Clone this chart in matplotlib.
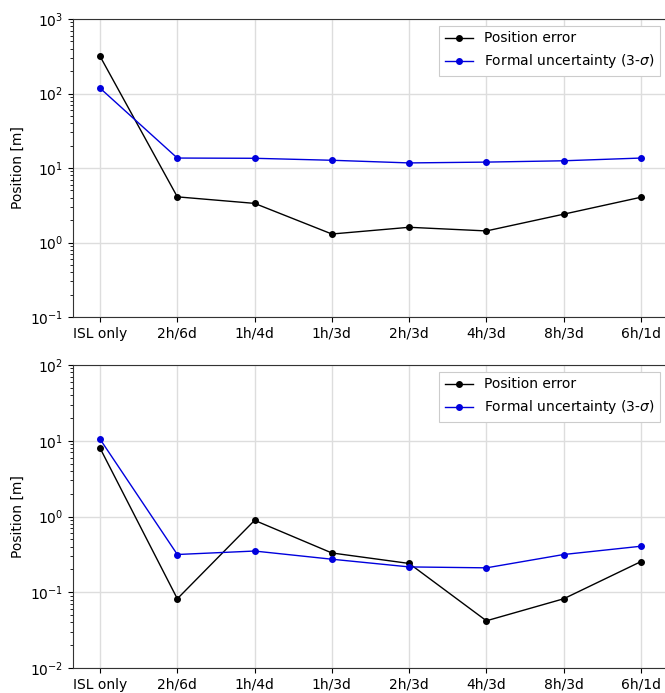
import matplotlib
matplotlib.use("Agg")
import matplotlib.pyplot as plt
import numpy as np

categories = ["ISL only", "2h/6d", "1h/4d", "1h/3d", "2h/3d", "4h/3d", "8h/3d", "6h/1d"]

top_error = [316, 4.1, 3.35, 1.3, 1.6, 1.43, 2.4, 4.05]
top_formal = [118, 13.6, 13.5, 12.7, 11.7, 12.0, 12.5, 13.6]

bot_error = [8.0, 0.082, 0.89, 0.33, 0.24, 0.042, 0.082, 0.254]
bot_formal = [10.5, 0.315, 0.35, 0.273, 0.216, 0.21, 0.315, 0.405]

fig = plt.figure(figsize=(6.65, 6.93), dpi=100)
W, H = 665, 693

def make_ax(top_px, bot_px):
    left_px, right_px = 73, 668
    return fig.add_axes([left_px / W, 1 - bot_px / H, (right_px - left_px) / W, (bot_px - top_px) / H])

ax1 = make_ax(19, 317)
ax2 = make_ax(365, 668)

x = np.arange(len(categories))
for ax, err, frm, ylim in [(ax1, top_error, top_formal, (1e-1, 1e3)),
                           (ax2, bot_error, bot_formal, (1e-2, 1e2))]:
    ax.plot(x, err, color="black", marker="o", markersize=4, linewidth=1.0, label="Position error")
    ax.plot(x, frm, color="#0000dd", marker="o", markersize=4, linewidth=1.0, label=r"Formal uncertainty (3-$\sigma$)")
    ax.set_yscale("log")
    ax.set_ylim(*ylim)
    ax.set_xlim(-0.35, len(categories) - 1 + 0.35)
    ax.set_xticks(x)
    ax.set_xticklabels(categories)
    ax.set_ylabel("Position [m]", fontsize=10)
    ax.tick_params(labelsize=10)
    ax.grid(True, which="major", color="#dddddd", linewidth=1.0)
    ax.set_axisbelow(True)
    for s in ax.spines.values():
        s.set_color("#333333")
    leg = ax.legend(loc="upper right", fontsize=10, framealpha=1.0, fancybox=False,
                    edgecolor="#cccccc", bbox_to_anchor=(1 - 1 / 595, 1.0))
    leg.get_frame().set_linewidth(0.8)

fig.savefig("out.png", dpi=100)
